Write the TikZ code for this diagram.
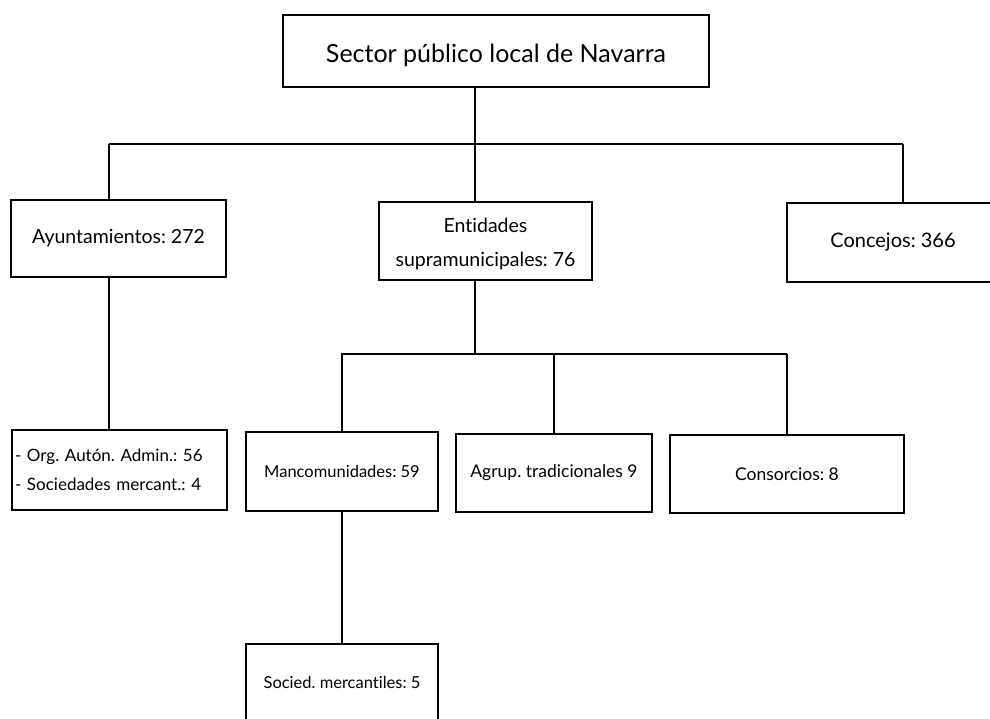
\documentclass[tikz,border=0pt]{standalone}
\usepackage{fontspec}
\setmainfont{Lato}[Ligatures=NoCommon]
\usetikzlibrary{positioning}
\frenchspacing

\begin{document}
\begin{tikzpicture}[x=1pt,y=-1pt,
		box/.style={draw,line width=1.5pt,inner sep=2pt,align=center},
		link/.style={line width=1.2pt}]
		\useasboundingbox (0,0) rectangle (990,719);
		\clip (0,0) rectangle (990,719);
		
		% top box
		\node[box,minimum width=426pt,minimum height=72pt,font=\fontsize{25}{30}\selectfont] (sector) at (496,51) {\raisebox{-4pt}[\height][\depth]{Sector público local de Navarra}};
		
		% second level
		\node[box,minimum width=215pt,minimum height=77pt,font=\fontsize{19.5}{23}\selectfont] (ayunt) at (118.5,238.5) {Ayuntamientos: 272};
		\node[box,minimum width=213pt,minimum height=78pt,font=\fontsize{19.5}{34}\selectfont] (entid) at (485.5,241) {\raisebox{-3pt}[\height][\depth]{Entidades}\\\raisebox{-3pt}[\height][\depth]{supramunicipales: 76}};
		\node[box,minimum width=212pt,minimum height=79pt,font=\fontsize{20}{24}\selectfont] (concejos) at (893,242.5) {Concejos: 366};
		
		% third level
		\node[box,text width=209pt,inner sep=3pt,minimum height=80pt,align=left,font=\fontsize{17}{29}\selectfont] (org) at (119.5,470) {- Org. Autón. Admin.: 56\\- Sociedades mercant.: 4};
		\node[box,minimum width=192pt,minimum height=79pt,font=\fontsize{16.5}{20}\selectfont] (manc) at (342,471.5) {Mancomunidades: 59};
		\node[box,minimum width=196pt,minimum height=78pt,font=\fontsize{17.5}{21}\selectfont] (agrup) at (554,473) {Agrup. tradicionales 9};
		\node[box,minimum width=234pt,minimum height=78pt,font=\fontsize{17.5}{21}\selectfont] (cons) at (787,474) {Consorcios: 8};
		
		% fourth level
		\node[box,minimum width=192pt,minimum height=76pt,font=\fontsize{16.5}{20}\selectfont] (socied) at (342,682) {Socied. mercantiles: 5};
		
		% first bus
		\coordinate (busA) at (475,144);
		\coordinate (jA) at (109,144);
		\coordinate (jC) at (903,144);
		\draw[link] (sector.south -| busA) -- (busA);
		\draw[link] (jA) -- (jC);
		\draw[link] (jA) -- (jA |- ayunt.north);
		\draw[link] (busA) -- (busA |- entid.north);
		\draw[link] (jC) -- (jC |- concejos.north);
		\draw[link] (jA |- ayunt.south) -- (jA |- org.north);
		
		% second bus
		\coordinate (busB) at (475,354);
		\coordinate (jM) at (341,354);
		\coordinate (jK) at (787,354);
		\draw[link] (busB |- entid.south) -- (busB);
		\draw[link] (jM) -- (jK);
		\draw[link] (manc.north) -- (manc.north |- busB);
		\draw[link] (agrup.north) -- (agrup.north |- busB);
		\draw[link] (cons.north) -- (cons.north |- busB);
		\draw[link] (manc.south) -- (socied.north);
	\end{tikzpicture}
\end{document}
